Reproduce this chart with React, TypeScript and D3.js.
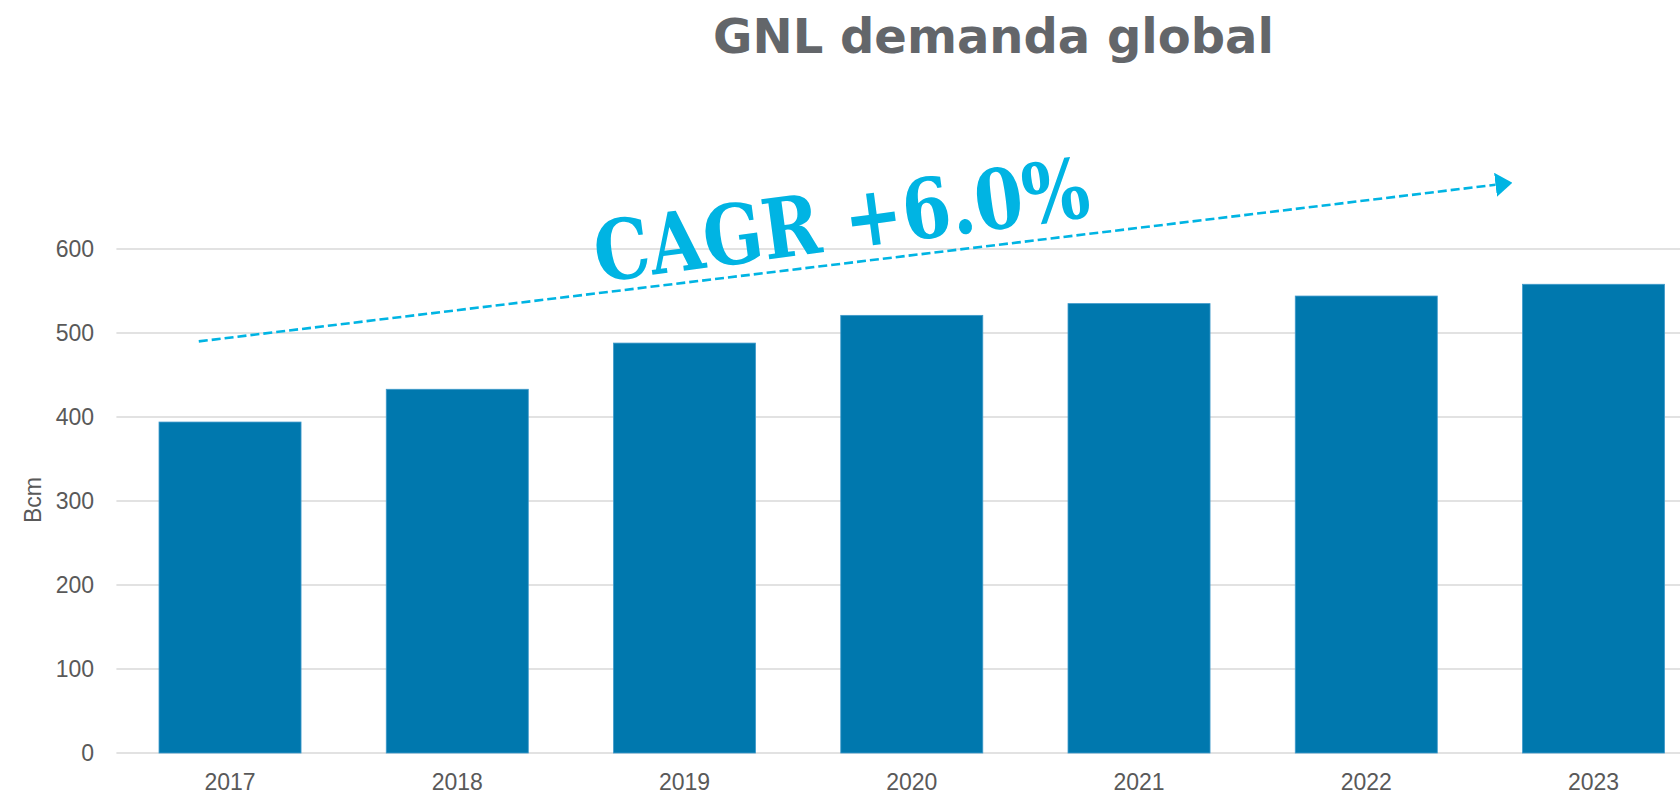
import React, { useEffect } from 'react';
import * as d3 from 'd3';

// values (Bcm)
const years = ['2017', '2018', '2019', '2020', '2021', '2022', '2023'];
const demand = [394, 433, 488, 521, 535, 544, 558];
const yTicks = [0, 100, 200, 300, 400, 500, 600];

const title = 'GNL demanda global';
const yAxisLabel = 'Bcm';
const cagrLabel = 'CAGR +6.0%';

// trend arrow, in data terms: year band + offset (fraction of bar width) + value
const arrowFrom = { year: '2017', offset: 0.28, value: 490 };
const arrowTo = { year: '2023', offset: -0.19, value: 676.5 };
const cagrAnchor = { year: '2019', offset: -0.11, value: 560.5 };

const W = 1680;
const H = 794;
const margin = { left: 116.4, bottom: 41, top: 249 };

const App = () => {
    useEffect(() => {
        document.body.style.margin = '0';
        document.body.style.overflow = 'hidden';
    }, []);

    const x = d3.scaleBand()
        .domain(years)
        .range([margin.left, margin.left + 7 * 227.25])
        .paddingInner(0.375)
        .paddingOuter(0.1875);

    const y = d3.scaleLinear()
        .domain([0, 600])
        .range([H - margin.bottom, margin.top]);

    const bw = x.bandwidth();
    const ax = (p) => x(p.year) + p.offset * bw;

    const x1 = ax(arrowFrom), y1 = y(arrowFrom.value);
    const x2 = ax(arrowTo), y2 = y(arrowTo.value);
    const tx = ax(cagrAnchor), ty = y(cagrAnchor.value);

    const textAngle = -7.6;

    const axisFont = '"Liberation Sans", Arial, sans-serif';

    return (
        <svg width={W} height={H} style={{ display: 'block', background: '#fff' }}>
            <defs>
                <marker id="arrowHead" markerUnits="userSpaceOnUse" markerWidth="17" markerHeight="24"
                    viewBox="0 0 17 24" refX="0" refY="12" orient="auto">
                    <path d="M0,0 L17,12 L0,24 Z" fill="#00b4e3" />
                </marker>
            </defs>

            <text x={993.5} y={53} textAnchor="middle" fontFamily='"DejaVu Sans", Verdana, sans-serif'
                fontWeight="bold" fontSize={48} fill="#63666a">{title}</text>

            {yTicks.map(t => (
                <g key={t}>
                    <line x1={margin.left} x2={W} y1={y(t)} y2={y(t)} stroke="#d9d9d9" strokeWidth={1.6} />
                    <text x={94} y={y(t)} dy="0.36em" textAnchor="end" fontFamily={axisFont}
                        fontSize={23} fill="#595959">{t}</text>
                </g>
            ))}

            {years.map((yr, i) => (
                <rect key={yr} x={x(yr)} y={y(demand[i])} width={bw} height={y(0) - y(demand[i])}
                    fill="#0078ae" stroke="#3f9acb" strokeWidth={0.8} />
            ))}

            {years.map(yr => (
                <text key={yr} x={x(yr) + bw / 2} y={789.5} textAnchor="middle" fontFamily={axisFont}
                    fontSize={23} fill="#595959">{yr}</text>
            ))}

            <text transform={`translate(33,500) rotate(-90)`} dy="0.36em" textAnchor="middle"
                fontFamily={axisFont} fontSize={23} fill="#595959">{yAxisLabel}</text>

            <line x1={x1} y1={y1} x2={x2} y2={y2} stroke="#00b4e3" strokeWidth={2.6}
                strokeDasharray="9,4" markerEnd="url(#arrowHead)" />

            <text transform={`translate(${tx},${ty}) rotate(${textAngle})`} fontFamily='"DejaVu Serif", Cambria, serif'
                fontWeight="bold" fontSize={83} fill="#00b4e3" textLength={499}
                lengthAdjust="spacingAndGlyphs">{cagrLabel}</text>
        </svg>
    );
};

export default App;
